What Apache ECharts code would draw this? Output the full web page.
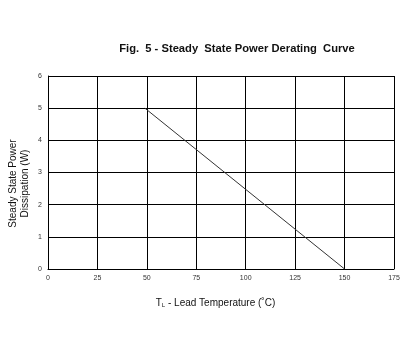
<!DOCTYPE html>
<html><head><meta charset="utf-8">
<script src="https://cdn.jsdelivr.net/npm/echarts@6/dist/echarts.min.js"></script>
<style>html,body{margin:0;padding:0;background:#fff}#c{width:408px;height:354px}</style>
</head><body><div id="c"></div>
<script>
const titleText = 'Fig.  5 - Steady  State Power Derating  Curve';
const xTicks = [0, 25, 50, 75, 100, 125, 150, 175];
const yTicks = [0, 1, 2, 3, 4, 5, 6];
const tempC = [49, 150];
const powerW = [5, 0];

const chart = echarts.init(document.getElementById('c'), null, {renderer: 'canvas'});
chart.setOption({
  backgroundColor: '#fff',
  animation: false,
  title: {
    text: titleText, left: 232, top: 38, textAlign: 'center',
    textStyle: {fontFamily: 'Liberation Sans, Arial', fontSize: 11.2, fontWeight: 'bold', color: '#111'}
  },
  grid: {left: 48, right: 14, top: 76, bottom: 85, outerBoundsMode: 'none', containLabel: false},
  xAxis: {
    type: 'value', min: 0, max: 175, interval: 25,
    axisLine: {show: true, lineStyle: {color: '#000', width: 1}},
    axisTick: {show: false},
    splitLine: {show: true, lineStyle: {color: '#000', width: 1}},
    axisLabel: {fontFamily: 'Liberation Sans, Arial', fontSize: 7, color: '#333', margin: 6},
    name: '{n|T}{s|L}{n| - Lead Temperature (˚C)}',
    nameLocation: 'middle', nameGap: 28,
    nameTextStyle: {padding: [0, 11, 0, 0], rich: {
      n: {fontFamily: 'Liberation Sans, Arial', fontSize: 10, color: '#111', lineHeight: 12},
      s: {fontFamily: 'Liberation Sans, Arial', fontSize: 6, color: '#111', lineHeight: 12, padding: [5, 0, 0, 0]}
    }}
  },
  yAxis: {
    type: 'value', min: 0, max: 6, interval: 1,
    axisLine: {show: true, lineStyle: {color: '#000', width: 1}},
    axisTick: {show: false},
    splitLine: {show: true, lineStyle: {color: '#000', width: 1}},
    axisLabel: {fontFamily: 'Liberation Sans, Arial', fontSize: 7, color: '#333', margin: 6},
    name: 'Steady State Power\nDissipation (W)',
    nameLocation: 'middle', nameGap: 17, nameRotate: 90, nameMoveOverlap: false,
    nameTextStyle: {fontFamily: 'Liberation Sans, Arial', fontSize: 10, color: '#111', lineHeight: 12, padding: [0, 22, 0, 0]}
  },
  series: [{
    type: 'line', data: tempC.map((t, i) => [t, powerW[i]]),
    symbol: 'none', lineStyle: {color: '#333', width: 1}
  }]
});
</script></body></html>
